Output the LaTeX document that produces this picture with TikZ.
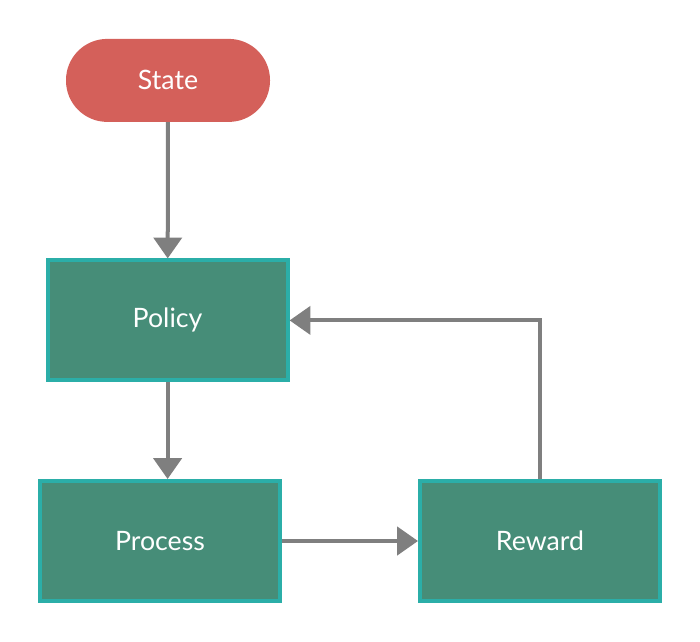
\documentclass[tikz,border=0pt]{standalone}
\usepackage{fontspec}
\setmainfont{Lato}
\usepackage{tikz}
\usetikzlibrary{arrows.meta, positioning}
\definecolor{statered}{HTML}{D4605A}
\definecolor{boxgreen}{HTML}{468D78}
\definecolor{boxteal}{HTML}{2BAEA8}
\definecolor{flowgray}{HTML}{7F7F7F}

\begin{document}
\begin{tikzpicture}[>={Triangle[width=0.7cm,length=0.52cm]},
        font=\fontsize{19}{22}\selectfont,
        start/.style={fill=statered, text=white, rounded corners=1.03cm,
                minimum width=5.1cm, minimum height=2.075cm, inner sep=0pt},
        block/.style={draw=boxteal, line width=0.1cm, fill=boxgreen, text=white,
                minimum width=6cm, minimum height=3cm, inner sep=0pt},
        flow/.style={->, draw=flowgray, line width=0.1cm}]
        \useasboundingbox (0,0) rectangle (17.5,-16.025);
        \node[start] (state) at (4.2,-2.01) {State};
        \node[block] (policy) at (4.19,-8.01) {Policy};
        \node[block] (process) at (4.0,-13.525) {Process};
        \node[block] (reward) at (13.5,-13.525) {Reward};
        \draw[flow] (state) -- (policy);
        \draw[flow] (policy.south) -- (policy.south |- process.north);
        \draw[flow] (process) -- (reward);
        \draw[flow] (reward.north) |- (policy.east);
      \end{tikzpicture}
\end{document}
